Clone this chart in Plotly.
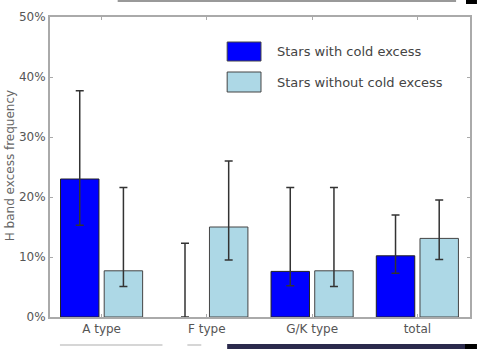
import plotly.graph_objects as go

categories = ["A type", "F type", "G/K type", "total"]
with_cold = [23.0, 0.0, 7.6, 10.2]
with_cold_err_plus = [14.7, 12.3, 14.0, 6.8]
with_cold_err_minus = [7.7, 0.0, 2.4, 2.9]
without_cold = [7.7, 15.0, 7.7, 13.1]
without_cold_err_plus = [13.9, 11.0, 13.9, 6.4]
without_cold_err_minus = [2.6, 5.5, 2.6, 3.5]
series_names = ["Stars with cold excess", "Stars without cold excess"]
y_ticks = [0, 10, 20, 30, 40, 50]
y_ticklabels = ["0%", "10%", "20%", "30%", "40%", "50%"]

W, H = 479, 349
L, R, T, B = 50, 472, 17, 317


def px(x):
    return (x - L) / (R - L)


def py(y):
    return (B - y) / (B - T)


fig = go.Figure()
err_style = dict(type="data", color="#333333", thickness=1.5, width=4, symmetric=False)
fig.add_trace(go.Bar(
    x=categories, y=with_cold, name=series_names[0],
    marker=dict(color="#0000FF",
                line=dict(color="#222222", width=[1 if v > 0 else 0 for v in with_cold])),
    error_y=dict(array=with_cold_err_plus, arrayminus=with_cold_err_minus, **err_style),
    showlegend=False,
))
fig.add_trace(go.Bar(
    x=categories, y=without_cold, name=series_names[1],
    marker=dict(color="#ADD8E6", line=dict(color="#444444", width=1)),
    error_y=dict(array=without_cold_err_plus, arrayminus=without_cold_err_minus, **err_style),
    showlegend=False,
))

shapes = []
annotations = []
# custom legend
swatches = [("#0000FF", 42, 61, series_names[0]), ("#ADD8E6", 72, 92, series_names[1])]
for col, y0, y1, name in swatches:
    shapes.append(dict(type="rect", xref="paper", yref="paper",
                       x0=px(228), x1=px(262), y0=py(y1), y1=py(y0),
                       fillcolor=col, line=dict(color="#444444", width=1)))
    annotations.append(dict(xref="paper", yref="paper", x=px(276), y=py((y0 + y1) / 2),
                            text=name, showarrow=False, xanchor="left", yanchor="middle",
                            font=dict(family="DejaVu Sans", size=13, color="#444444")))

# y axis title
annotations.append(dict(xref="paper", yref="paper", x=px(1), y=py(166),
                        text="H band excess frequency", showarrow=False, textangle=-90,
                        xanchor="left", yanchor="middle",
                        font=dict(family="DejaVu Sans", size=12, color="#666666")))

# page fragments around the cropped figure
shapes.append(dict(type="rect", xref="paper", yref="paper", x0=px(228), x1=px(467),
                   y0=py(349), y1=py(344), fillcolor="#2b2a4c", line=dict(width=0)))
shapes.append(dict(type="rect", xref="paper", yref="paper", x0=px(467), x1=px(479),
                   y0=py(349), y1=py(344), fillcolor="#000000", line=dict(width=0)))
shapes.append(dict(type="rect", xref="paper", yref="paper", x0=px(468), x1=px(479),
                   y0=py(4), y1=py(0), fillcolor="#000000", line=dict(width=0)))
shapes.append(dict(type="rect", xref="paper", yref="paper", x0=px(118), x1=px(458),
                   y0=py(2), y1=py(0), fillcolor="#555555", opacity=0.6, line=dict(width=0)))
shapes.append(dict(type="rect", xref="paper", yref="paper", x0=px(60), x1=px(163),
                   y0=py(346), y1=py(344), fillcolor="#bbbbbb", opacity=0.6, line=dict(width=0)))
shapes.append(dict(type="rect", xref="paper", yref="paper", x0=px(188), x1=px(202),
                   y0=py(346), y1=py(344), fillcolor="#bbbbbb", opacity=0.6, line=dict(width=0)))

fig.update_layout(
    width=W, height=H,
    margin=dict(l=L, r=W - R, t=T, b=H - B, pad=0),
    paper_bgcolor="white", plot_bgcolor="white",
    barmode="group", bargap=0.17, bargroupgap=0.12,
    shapes=shapes, annotations=annotations,
    font=dict(family="DejaVu Sans", size=12, color="#555555"),
)
fig.update_xaxes(
    range=[-0.49, 3.5], showline=True, linecolor="#aaaaaa", linewidth=2, mirror="allticks",
    ticks="inside", ticklen=3, tickcolor="#aaaaaa", showgrid=False, zeroline=False,
    tickfont=dict(size=12, color="#555555"),
)
fig.update_yaxes(
    range=[0, 50], tickvals=y_ticks, ticktext=y_ticklabels,
    showline=True, linecolor="#aaaaaa", linewidth=2, mirror="allticks",
    ticks="inside", ticklen=3, tickcolor="#aaaaaa", showgrid=False, zeroline=False,
    tickfont=dict(size=12, color="#555555"),
)

fig.write_html("out.html")
